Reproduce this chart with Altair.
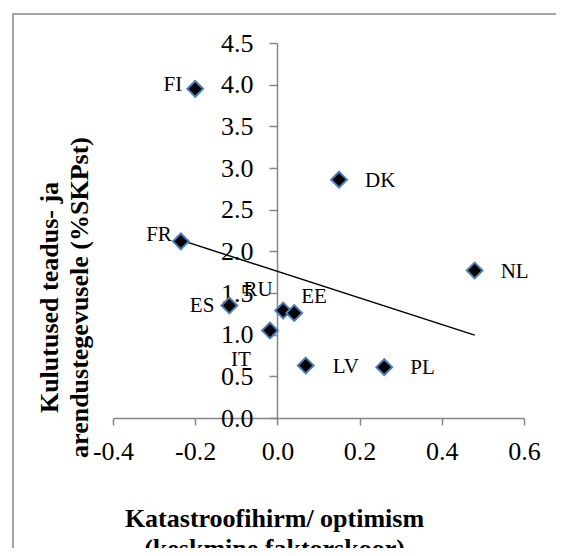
import altair as alt
import pandas as pd

# ---- data ----
countries = ["FI", "DK", "FR", "NL", "ES", "RU", "EE", "IT", "LV", "PL"]
x_vals = [-0.20, 0.15, -0.235, 0.48, -0.117, 0.014, 0.041, -0.018, 0.069, 0.26]
y_vals = [3.95, 2.86, 2.12, 1.77, 1.35, 1.29, 1.26, 1.05, 0.63, 0.61]

x_ticks = [-0.4, -0.2, 0.0, 0.2, 0.4, 0.6]
y_ticks = [0.0, 0.5, 1.0, 1.5, 2.0, 2.5, 3.0, 3.5, 4.0, 4.5]

x_title = ["Katastroofihirm/ optimism", "(keskmine faktorskoor)"]
y_title = ["Kulutused teadus- ja", "arendustegevusele (%SKPst)"]

# label placement (style): align, dx, dy
label_style = {
    "FI": ("right", -13, -4),
    "DK": ("left", 26, 1),
    "FR": ("right", -9, -6),
    "NL": ("left", 26, 1),
    "ES": ("right", -15, 0),
    "RU": ("center", -25, -21),
    "EE": ("left", 7, -16),
    "IT": ("center", -29, 29),
    "LV": ("left", 27, 1),
    "PL": ("left", 26, 1),
}

df = pd.DataFrame({"country": countries, "x": x_vals, "y": y_vals})

FONT = "Liberation Serif"
GRAY = "#868686"

xaxis = alt.Axis(
    values=x_ticks,
    labelExpr="(datum.value < 0 ? '-' : '') + format(abs(datum.value), '.1f')",
    labelPadding=13, tickSize=7, labelFlush=False,
    title=x_title, titleX=161, titleY=100,
)
yaxis = alt.Axis(
    values=y_ticks, format=".1f", offset=-164,
    labelPadding=16, tickSize=8, labelFlush=False,
    title=y_title, titleX=-228, titleY=254, titleAngle=270,
)

X = alt.X("x:Q", scale=alt.Scale(domain=[-0.4, 0.6], nice=False, zero=False), axis=xaxis)
Y = alt.Y("y:Q", scale=alt.Scale(domain=[0, 4.5], nice=False), axis=yaxis)

border = alt.Chart(pd.DataFrame({"k": [0]})).mark_rect(
    fill="transparent", stroke="#878787", strokeWidth=1.5
).encode(x=alt.value(-100), y=alt.value(-29), x2=alt.value(700), y2=alt.value(800))

trend = alt.Chart(df).transform_regression("x", "y").mark_line(
    color="black", strokeWidth=1.5
).encode(x=X, y=Y)

points = alt.Chart(df).mark_point(
    shape="diamond", filled=True, fill="black", stroke="#4a7ebb",
    strokeWidth=2, size=250, opacity=1
).encode(x=X, y=Y)

labels = []
for c in countries:
    align, dx, dy = label_style[c]
    labels.append(
        alt.Chart(df).transform_filter(alt.datum.country == c).mark_text(
            align=align, baseline="middle", dx=dx, dy=dy,
            font=FONT, fontSize=21, color="black"
        ).encode(x=X, y=Y, text="country:N")
    )

chart = alt.layer(border, trend, points, *labels).properties(
    width=411, height=375,
    autosize=alt.AutoSizeParams(type="none"),
    padding={"left": 105, "top": 35, "right": 32, "bottom": 130},
).configure_view(strokeWidth=0).configure_axis(
    labelFont=FONT, labelFontSize=26, labelColor="black",
    domainColor=GRAY, tickColor=GRAY, domainWidth=1.5, tickWidth=1.5,
    grid=False,
    titleFont=FONT, titleFontSize=26, titleFontWeight="bold", titleColor="black",
    titleBaseline="middle", titleLineHeight=30, titleAlign="center",
).configure_text(font=FONT)

chart.save("out.html", embed_options={"renderer": "svg", "actions": False})
